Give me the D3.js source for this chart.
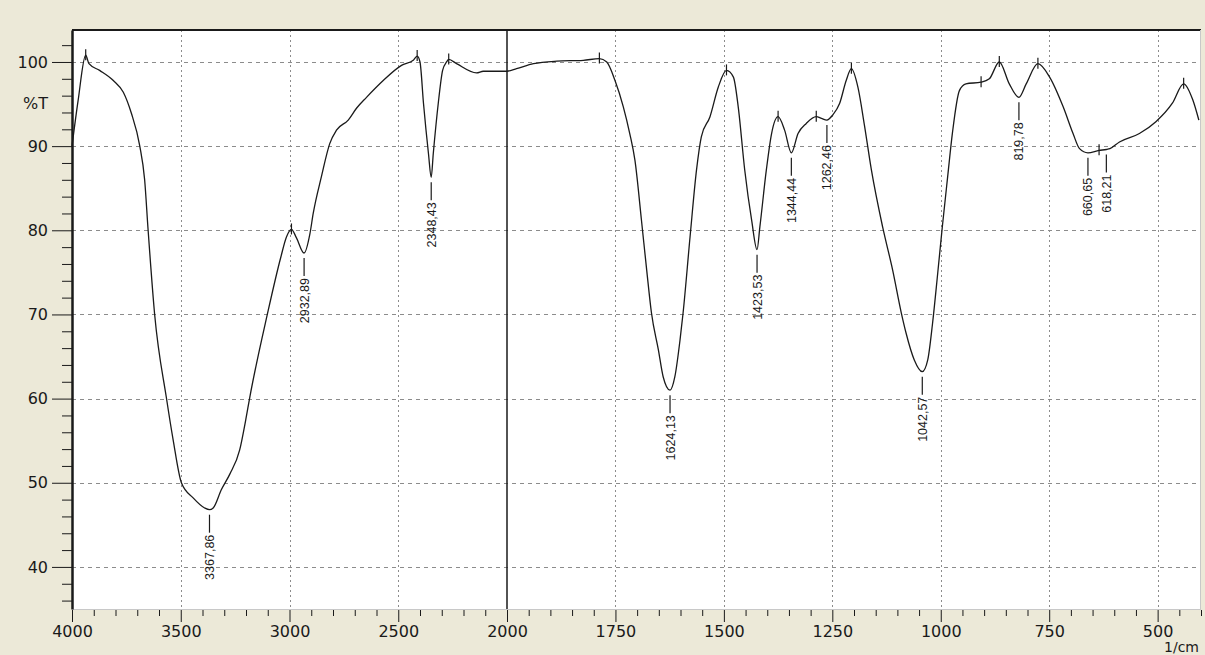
<!DOCTYPE html>
<html>
<head>
<meta charset="utf-8">
<script src="https://cdn.jsdelivr.net/npm/d3@7"></script>
<style>
  html, body { margin: 0; padding: 0; background: #ECE9D8; }
  svg { display: block; }
  .axis text { font-family: "DejaVu Sans", sans-serif; font-size: 16px; fill: #1a1a1a; }
  .peak-label { font-family: "Liberation Sans", Arial, sans-serif; font-size: 12.5px; fill: #1a1a1a; }
</style>
</head>
<body>
<svg id="chart" width="1205" height="655"></svg>
<script>
// FTIR spectrum: wavenumber (1/cm) vs. transmittance (%T)
const wavenumbers = [
  4000, 3972, 3937, 3922, 3873, 3810, 3764, 3727, 3689, 3666, 3650, 3620, 3566, 3535, 3497,
  3443, 3390, 3367.86, 3351, 3313, 3275, 3229, 3201, 3183, 3102, 3040, 3014, 2991, 2968, 2932.89,
  2906, 2891, 2853, 2815, 2784, 2730, 2692, 2646, 2569, 2485, 2431, 2413, 2400, 2384, 2361, 2348.43,
  2339, 2316, 2296, 2278, 2268, 2232, 2140, 2109, 2000, 1978, 1939, 1885, 1824, 1787, 1770, 1751,
  1732, 1717, 1705, 1690, 1678, 1667, 1651, 1640, 1624.13, 1613, 1601, 1594, 1578, 1563, 1552, 1532,
  1513, 1494, 1478, 1467, 1452, 1436, 1423.53, 1417, 1402, 1390, 1375, 1360, 1344.44, 1329, 1310,
  1287, 1275, 1262.46, 1249, 1233, 1218, 1206, 1191, 1176, 1160, 1134, 1111, 1091, 1080, 1061,
  1042.57, 1030, 1019, 1007, 996, 984, 973, 957, 942, 907, 888, 865, 842, 819.78, 803, 776,
  749, 718, 695, 680, 660.65, 635, 618.21, 610, 588, 542, 504, 466, 440, 419, 405
];
const transmittance = [
  90.0, 95.4, 100.8, 99.8, 99.0, 97.8, 96.4, 93.9, 90.1, 86.0, 80.0, 70.0, 60.1, 55.1, 50.0,
  48.2, 47.0, 46.8, 47.0, 49.2, 51.0, 53.9, 57.5, 60.1, 70.0, 76.8, 79.2, 80.1, 79.1, 77.3,
  79.6, 82.0, 86.4, 90.3, 91.9, 93.1, 94.5, 95.8, 97.8, 99.6, 100.2, 100.7, 100.0, 95.1, 89.1, 86.3,
  89.1, 95.1, 99.0, 100.0, 100.3, 99.8, 98.7, 98.9, 98.9, 99.2, 99.8, 100.1, 100.2, 100.4, 100.0, 97.8,
  94.7, 91.5, 88.3, 81.2, 75.3, 70.2, 65.8, 62.6, 61.0, 62.6, 67.0, 70.2, 79.2, 87.2, 91.1, 93.5,
  97.0, 99.0, 98.2, 94.7, 87.2, 81.2, 77.7, 80.4, 87.2, 91.5, 93.5, 91.9, 89.2, 91.5, 92.7,
  93.5, 93.3, 93.1, 93.7, 95.1, 97.8, 99.2, 97.0, 92.5, 87.2, 80.4, 75.3, 70.2, 67.8, 64.6,
  63.2, 64.6, 68.9, 74.9, 80.6, 86.4, 91.6, 96.6, 97.4, 97.6, 98.0, 100.0, 97.4, 95.8, 97.4, 99.8,
  98.2, 94.7, 91.5, 89.7, 89.2, 89.5, 89.6, 89.7, 90.5, 91.5, 92.9, 95.1, 97.4, 95.5, 93.1
];

// Labelled absorption bands (minima) and marked maxima
const peakWavenumbers = [3367.86, 2932.89, 2348.43, 1624.13, 1423.53, 1344.44, 1262.46, 1042.57, 819.78, 660.65, 618.21];
const peakLabels = ["3367,86", "2932,89", "2348,43", "1624,13", "1423,53", "1344,44", "1262,46", "1042,57", "819,78", "660,65", "618,21"];
const maxWavenumbers = [3937, 2991, 2413, 2268, 1787, 1494, 1375, 1287, 1206, 907, 865, 776, 635, 440];

// Axis ticks
const xMajorTicks = [4000, 3500, 3000, 2500, 2000, 1750, 1500, 1250, 1000, 750, 500];
const xMinorTicks = [3900, 3800, 3700, 3600, 3400, 3300, 3200, 3100, 2900, 2800, 2700, 2600,
  2400, 2300, 2200, 2100, 1950, 1900, 1850, 1800, 1700, 1650, 1600, 1550, 1450, 1400, 1350, 1300,
  1200, 1150, 1100, 1050, 950, 900, 850, 800, 700, 650, 600, 550, 450, 400];
const yMajorTicks = [40, 50, 60, 70, 80, 90, 100];
const yMinorTicks = [36, 38, 42, 44, 46, 48, 52, 54, 56, 58, 62, 64, 66, 68, 72, 74, 76, 78,
  82, 84, 86, 88, 92, 94, 96, 98, 102];

(function () {
  const svg = d3.select("#chart");
  const plotLeft = 72, plotRight = 1201, plotTop = 30, plotBottom = 609;

  // Wavenumber axis is compressed by half above 2000 1/cm
  const x = d3.scaleLinear().domain([4000, 2000, 400]).range([plotLeft, 507, plotRight]);
  const y = d3.scaleLinear().domain([35, 103.8]).range([plotBottom, plotTop]);

  const series = wavenumbers.map((w, i) => ({ w, t: transmittance[i] }));
  const tAt = w => transmittance[wavenumbers.indexOf(w)];
  const ink = "#1a1a1a";

  // Plot background
  svg.append("rect")
    .attr("x", plotLeft).attr("y", plotTop)
    .attr("width", plotRight - plotLeft - 1).attr("height", plotBottom - plotTop)
    .attr("fill", "#ffffff");

  // Grid
  const grid = svg.append("g");
  grid.selectAll("line.h").data(yMajorTicks).join("line")
    .attr("x1", plotLeft).attr("x2", plotRight - 1)
    .attr("y1", d => Math.round(y(d)) + 0.5).attr("y2", d => Math.round(y(d)) + 0.5)
    .attr("stroke", "#8c8c8c").attr("stroke-width", 1).attr("stroke-dasharray", "4,4");
  grid.selectAll("line.v").data(xMajorTicks.filter(d => d !== 4000 && d !== 2000)).join("line")
    .attr("x1", d => Math.round(x(d)) + 0.5).attr("x2", d => Math.round(x(d)) + 0.5)
    .attr("y1", plotTop).attr("y2", plotBottom)
    .attr("stroke", "#8c8c8c").attr("stroke-width", 1).attr("stroke-dasharray", "2,3");

  // Frame: dark top edge, light right/bottom edges
  svg.append("line").attr("x1", plotLeft).attr("x2", plotRight).attr("y1", plotTop).attr("y2", plotTop)
    .attr("stroke", ink).attr("stroke-width", 2);
  svg.append("line").attr("x1", plotRight - 0.5).attr("x2", plotRight - 0.5).attr("y1", plotTop).attr("y2", plotBottom)
    .attr("stroke", "#c8c8c8").attr("stroke-width", 1);
  svg.append("line").attr("x1", plotLeft).attr("x2", plotRight).attr("y1", plotBottom + 0.5).attr("y2", plotBottom + 0.5)
    .attr("stroke", "#c8c8c8").attr("stroke-width", 1);

  // Scale break at 2000 1/cm
  svg.append("line")
    .attr("x1", x(2000)).attr("x2", x(2000)).attr("y1", plotTop).attr("y2", plotBottom)
    .attr("stroke", ink).attr("stroke-width", 1.5);

  // X axis
  const xAxis = svg.append("g").attr("class", "axis").attr("transform", `translate(0,${plotBottom + 1})`);
  xAxis.call(d3.axisBottom(x).tickValues(xMajorTicks).tickFormat(d3.format("d"))
    .tickSize(12).tickPadding(4).tickSizeOuter(0));
  xAxis.select(".domain").remove();
  xAxis.selectAll(".tick line").attr("stroke", ink);
  const xMinor = svg.append("g").attr("transform", `translate(0,${plotBottom + 1})`);
  xMinor.call(d3.axisBottom(x).tickValues(xMinorTicks).tickFormat("").tickSize(6).tickSizeOuter(0));
  xMinor.select(".domain").remove();
  xMinor.selectAll(".tick line").attr("stroke", ink);

  // Y axis
  const yAxis = svg.append("g").attr("class", "axis").attr("transform", `translate(${plotLeft},0)`);
  yAxis.call(d3.axisLeft(y).tickValues(yMajorTicks).tickSize(20).tickPadding(4).tickSizeOuter(0));
  yAxis.select(".domain").attr("stroke", ink).attr("stroke-width", 2.5);
  yAxis.selectAll(".tick line").attr("stroke", ink);
  const yMinor = svg.append("g").attr("transform", `translate(${plotLeft},0)`);
  yMinor.call(d3.axisLeft(y).tickValues(yMinorTicks).tickFormat("").tickSize(10).tickSizeOuter(0));
  yMinor.select(".domain").remove();
  yMinor.selectAll(".tick line").attr("stroke", ink);

  // Axis titles
  svg.append("text")
    .attr("x", 48).attr("y", 103).attr("dy", "0.36em").attr("text-anchor", "end")
    .style("font-family", "DejaVu Sans, sans-serif").style("font-size", "16px").attr("fill", ink)
    .text("%T");
  svg.append("text")
    .attr("x", 1199).attr("y", 652).attr("text-anchor", "end")
    .style("font-family", "DejaVu Sans, sans-serif").style("font-size", "14px").attr("fill", ink)
    .text("1/cm");

  // Spectrum
  const line = d3.line().x(d => x(d.w)).y(d => y(d.t)).curve(d3.curveMonotoneX);
  svg.append("path").datum(series)
    .attr("d", line)
    .attr("fill", "none").attr("stroke", ink).attr("stroke-width", 1.3)
    .attr("stroke-linejoin", "round");

  // Maxima markers
  svg.append("g").selectAll("line").data(maxWavenumbers).join("line")
    .attr("x1", d => x(d)).attr("x2", d => x(d))
    .attr("y1", d => y(tAt(d)) - 6).attr("y2", d => y(tAt(d)) + 5)
    .attr("stroke", ink).attr("stroke-width", 1.2);

  // Band labels
  const labels = svg.append("g").selectAll("g").data(peakWavenumbers).join("g")
    .attr("transform", d => `translate(${x(d)},${y(tAt(d))})`);
  labels.append("line")
    .attr("x1", 0).attr("x2", 0).attr("y1", 5).attr("y2", 23)
    .attr("stroke", ink).attr("stroke-width", 1.2);
  labels.append("text")
    .attr("class", "peak-label")
    .attr("transform", "translate(0,25) rotate(-90)")
    .attr("text-anchor", "end")
    .attr("dy", "0.36em")
    .text((d, i) => peakLabels[i]);
})();
</script>
</body>
</html>
